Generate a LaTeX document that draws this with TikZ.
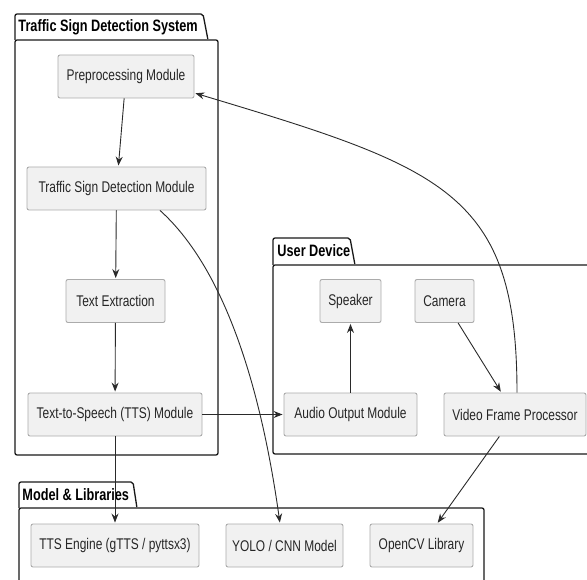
\documentclass[tikz,border=0pt]{standalone}
\usepackage{fontspec}
\setmainfont{Liberation Sans}[FakeStretch=0.77]
\usetikzlibrary{arrows.meta}

\definecolor{boxfill}{HTML}{F1F1F1}
\definecolor{boxline}{HTML}{ABABAB}
\definecolor{pkgline}{HTML}{181818}
\definecolor{arrline}{HTML}{2A2A2A}

\tikzset{
  comp/.style={draw=boxline, fill=boxfill, rounded corners=2pt, minimum height=43pt,
    inner sep=0pt, text=black!85, font=\fontsize{15.5}{17}\selectfont},
  pkg/.style={-, draw=pkgline, line width=1.3pt, rounded corners=2pt},
  pkgtitle/.style={anchor=base west, inner sep=0pt, font=\bfseries\fontsize{16.5}{18}\selectfont},
}

\begin{document}
\begin{tikzpicture}[->,>={Stealth[length=9pt,width=7pt,inset=3pt]},shorten >=1pt,
    x=1pt,y=-1pt,line width=0.9pt,draw=arrline]

  \useasboundingbox (0,0) rectangle (587,580);

  % packages
  \draw[pkg] (15,40) -- (15,14) -- (203,14) -- (208,40);
  \draw[pkg] (15,40) rectangle (218,455);
  \node[pkgtitle] (sysTitle) at (18,32) {Traffic Sign Detection System};

  \draw[pkg] (273,265) -- (273,238) -- (350,238) -- (355,265);
  \draw[pkg] (273,265) rectangle (600,454);
  \node[pkgtitle] (devTitle) at (277,257) {User Device};

  \draw[pkg] (19,508) -- (19,482) -- (133,482) -- (137,508);
  \draw[pkg] (19,508) rectangle (484,600);
  \node[pkgtitle] (libTitle) at (22,500) {Model \& Libraries};

  % components
  \node[comp, minimum width=136pt] (pre)  at (126,76.5)   {Preprocessing Module};
  \node[comp, minimum width=179pt] (tsd)  at (116.5,188.5) {Traffic Sign Detection Module};
  \node[comp, minimum width=99pt]  (txt)  at (115.5,301)  {Text Extraction};
  \node[comp, minimum width=174pt] (tts)  at (115,414.5)  {Text-to-Speech (TTS) Module};

  \node[comp, minimum width=61pt]  (spk)  at (350.5,301)  {Speaker};
  \node[comp, minimum width=59pt]  (cam)  at (444.5,301)  {Camera};
  \node[comp, minimum width=133pt] (aud)  at (350.5,414.5) {Audio Output Module};
  \node[comp, minimum width=142pt] (vfp)  at (515,414.5)  {Video Frame Processor};

  \node[comp, minimum width=168pt] (eng)  at (115,545.5)  {TTS Engine (gTTS / pyttsx3)};
  \node[comp, minimum width=117pt] (yolo) at (284.5,545.5) {YOLO / CNN Model};
  \node[comp, minimum width=103pt] (ocv)  at (421.5,545.5) {OpenCV Library};

  \path (pre) edge (tsd)
  (tsd) edge (txt)
  (txt) edge (tts)
  (tts) edge (aud)
  (tts) edge (eng)
  (aud) edge (spk)
  (cam) edge (vfp)
  (vfp) edge (ocv);

  \draw ([xshift=43.5pt]tsd.south) .. controls +(60,54) and +(-21,-150) .. ([xshift=-4.5pt]yolo.north);
  \draw ([xshift=2pt]vfp.north) .. controls +(0,-200) and +(250,75) .. ([yshift=-16.5pt]pre.east);

\end{tikzpicture}
\end{document}
